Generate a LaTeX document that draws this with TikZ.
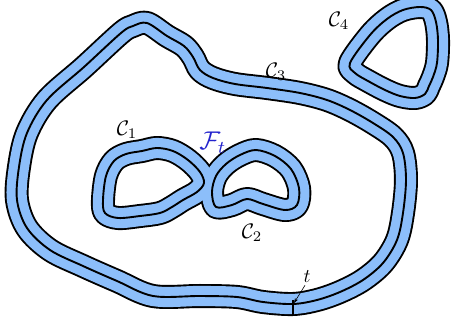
\documentclass[tikz,border=0pt]{standalone}
\usetikzlibrary{arrows.meta}
\definecolor{bandblue}{RGB}{140,190,250}
\definecolor{ftblue}{RGB}{35,35,205}
\tikzset{
  edgeline/.style={line width=24pt, black, line join=round},
  bandline/.style={line width=20.2pt, bandblue, line join=round},
  midline/.style={line width=1.9pt, black, line join=round},
  lab/.style={scale=2.1, inner sep=0.5pt},
}
\newcommand\allcurves[1]{%
  % C3
  \draw[#1] plot[smooth cycle, tension=0.55] coordinates {
    (147,23) (167,36) (184,46) (193,57) (200,70) (213,78) (235,84) (267,88)
    (300,93) (327,100) (350,110) (373,123) (393,137) (403,153) (406,180)
    (403,213) (397,240) (383,263) (363,280) (340,292) (317,300) (293,304)
    (263,302) (237,297) (200,296) (153,296) (117,281) (83,266) (50,250)
    (27,228) (17,200) (19,167) (27,133) (47,100) (84,67) (121,33) (133,26)};
  % C4
  \draw[#1] plot[smooth cycle, tension=0.55] coordinates {
    (350,63) (370,35) (387,19) (403,10) (420,7) (431,10) (436,22) (438,40)
    (437,63) (433,77) (429,86) (425,94) (415,98) (400,96) (385,90) (368,81) (355,73)};
  % C1
  \draw[#1] plot[smooth cycle, tension=0.55] coordinates {
    (103,200) (106,176) (114,161) (126,154) (142,151) (157,148) (173,151)
    (188,160) (200,172) (204,183) (197,192) (183,200) (172,207) (160,213)
    (140,216) (118,218) (105,213)};
  % C2
  \draw[#1] plot[smooth cycle, tension=0.55] coordinates {
    (212,192) (216,176) (226,164) (240,155) (256,150) (275,156) (291,169)
    (299,188) (297,205) (285,210) (263,204) (247,199) (232,205) (216,207)};
}
\begin{document}
\begin{tikzpicture}[x=1pt,y=-1pt]
\useasboundingbox (0,0) rectangle (451,331);
\fill[white] (0,0) rectangle (451,331);
\clip (0,0) rectangle (451,331);
\allcurves{edgeline}
\allcurves{bandline}
\allcurves{midline}
% labels
\node[lab] (c1) at (127,130) {$\mathcal{C}_1$};
\node[lab] (c2) at (252,233) {$\mathcal{C}_2$};
\node[lab] (c3) at (276,72) {$\mathcal{C}_3$};
\node[lab] (c4) at (339,21) {$\mathcal{C}_4$};
\node[lab, scale=1.22, text=ftblue] (ft) at (213,143) {$\mathcal{F}_t$};
% thickness marker
\node[lab, scale=0.92] (tl) at (307,277) {$t$};
\coordinate (tp) at (294,303);
\coordinate (tt) at (293,300);
\coordinate (tb) at (293,316);
\draw[line width=1.3pt] (tt) -- (tb);
\draw[line width=0.6pt, -{Stealth[length=5pt,width=3.5pt]}] (tl.south) ++(-2,1) coordinate (ts) (ts) -- (tp);
\end{tikzpicture}
\end{document}
